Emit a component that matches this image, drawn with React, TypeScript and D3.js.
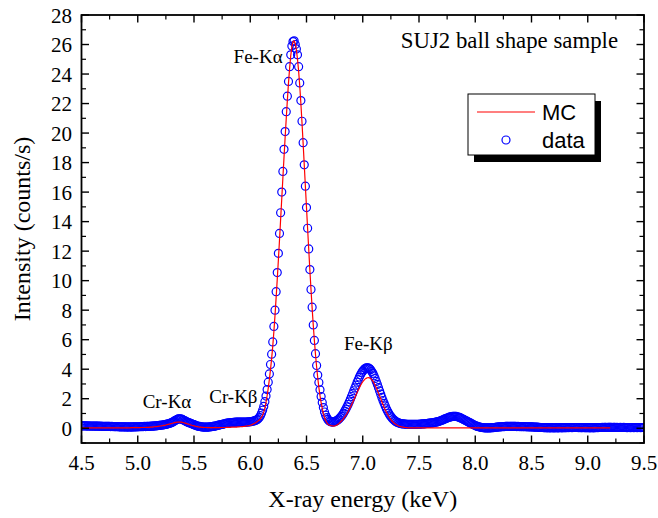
import React from "react";
import * as d3 from "d3";

// Spectrum channels: energy of channel i is ENERGY_START + i * ENERGY_STEP (keV)
const ENERGY_START = 4.5;
const ENERGY_STEP = 0.01;

// Measured intensity (counts/s), one value per channel, 4.50 … 9.50 keV
const measuredCounts = [
  0.16, 0.16, 0.17, 0.16, 0.16, 0.15, 0.16, 0.15, 0.15, 0.15,
  0.15, 0.14, 0.15, 0.14, 0.14, 0.14, 0.13, 0.14, 0.13, 0.13,
  0.13, 0.12, 0.13, 0.12, 0.12, 0.12, 0.11, 0.12, 0.11, 0.11,
  0.10, 0.10, 0.11, 0.10, 0.09, 0.09, 0.10, 0.09, 0.09, 0.09,
  0.09, 0.08, 0.09, 0.09, 0.08, 0.09, 0.09, 0.09, 0.10, 0.09,
  0.10, 0.10, 0.10, 0.11, 0.11, 0.11, 0.12, 0.11, 0.12, 0.12,
  0.13, 0.13, 0.14, 0.14, 0.15, 0.16, 0.16, 0.17, 0.18, 0.19,
  0.20, 0.21, 0.22, 0.23, 0.25, 0.26, 0.28, 0.30, 0.32, 0.35,
  0.38, 0.42, 0.46, 0.51, 0.56, 0.60, 0.63, 0.64, 0.64, 0.62,
  0.58, 0.54, 0.50, 0.46, 0.42, 0.39, 0.36, 0.33, 0.30, 0.27,
  0.24, 0.21, 0.18, 0.15, 0.13, 0.12, 0.10, 0.09, 0.08, 0.08,
  0.07, 0.07, 0.08, 0.08, 0.09, 0.10, 0.11, 0.12, 0.14, 0.15,
  0.17, 0.19, 0.21, 0.23, 0.25, 0.26, 0.28, 0.30, 0.32, 0.34,
  0.35, 0.36, 0.37, 0.38, 0.39, 0.40, 0.40, 0.41, 0.41, 0.42,
  0.42, 0.42, 0.42, 0.42, 0.41, 0.42, 0.42, 0.42, 0.43, 0.43,
  0.44, 0.45, 0.47, 0.49, 0.51, 0.54, 0.58, 0.64, 0.72, 0.85,
  1.02, 1.22, 1.48, 1.80, 2.18, 2.62, 3.12, 3.68, 4.32, 5.02,
  5.85, 6.90, 8.00, 9.25, 10.55, 11.85, 13.2, 14.6, 16.0, 17.4,
  18.9, 20.1, 21.45, 22.5, 23.5, 24.5, 25.3, 25.9, 26.2, 26.25,
  26.0, 25.7, 25.3, 24.5, 23.4, 22.2, 20.8, 19.35, 17.85, 16.4,
  14.95, 13.55, 12.15, 10.75, 9.4, 8.2, 7.0, 5.95, 5.05, 4.25,
  3.6, 3.1, 2.6, 2.15, 1.75, 1.4, 1.10, 0.88, 0.72, 0.60,
  0.51, 0.46, 0.43, 0.42, 0.43, 0.45, 0.48, 0.52, 0.57, 0.64,
  0.72, 0.81, 0.92, 1.03, 1.16, 1.30, 1.45, 1.61, 1.78, 1.96,
  2.15, 2.34, 2.54, 2.73, 2.92, 3.12, 3.29, 3.47, 3.62, 3.76,
  3.87, 3.97, 4.04, 4.09, 4.10, 4.09, 4.04, 3.97, 3.85, 3.72,
  3.55, 3.37, 3.17, 2.97, 2.75, 2.53, 2.31, 2.09, 1.88, 1.69,
  1.51, 1.32, 1.17, 1.03, 0.90, 0.79, 0.70, 0.61, 0.54, 0.48,
  0.43, 0.39, 0.36, 0.33, 0.31, 0.30, 0.29, 0.28, 0.28, 0.27,
  0.27, 0.27, 0.26, 0.26, 0.26, 0.26, 0.26, 0.26, 0.27, 0.27,
  0.27, 0.28, 0.28, 0.29, 0.30, 0.30, 0.31, 0.32, 0.33, 0.34,
  0.35, 0.36, 0.37, 0.38, 0.40, 0.41, 0.43, 0.45, 0.47, 0.50,
  0.53, 0.56, 0.60, 0.63, 0.66, 0.69, 0.72, 0.75, 0.77, 0.79,
  0.80, 0.81, 0.81, 0.80, 0.78, 0.76, 0.73, 0.70, 0.66, 0.62,
  0.58, 0.54, 0.50, 0.46, 0.42, 0.38, 0.34, 0.30, 0.26, 0.22,
  0.18, 0.15, 0.12, 0.10, 0.08, 0.06, 0.05, 0.04, 0.03, 0.03,
  0.02, 0.02, 0.02, 0.03, 0.03, 0.04, 0.04, 0.05, 0.06, 0.07,
  0.08, 0.09, 0.09, 0.10, 0.10, 0.11, 0.11, 0.12, 0.12, 0.12,
  0.12, 0.13, 0.12, 0.13, 0.12, 0.12, 0.12, 0.11, 0.12, 0.11,
  0.11, 0.11, 0.10, 0.11, 0.10, 0.10, 0.10, 0.09, 0.10, 0.09,
  0.09, 0.09, 0.08, 0.08, 0.07, 0.07, 0.06, 0.06, 0.05, 0.05,
  0.05, 0.04, 0.04, 0.04, 0.03, 0.04, 0.03, 0.03, 0.04, 0.03,
  0.03, 0.03, 0.04, 0.03, 0.03, 0.04, 0.04, 0.03, 0.04, 0.04,
  0.04, 0.04, 0.05, 0.04, 0.05, 0.05, 0.04, 0.05, 0.05, 0.05,
  0.05, 0.05, 0.04, 0.05, 0.04, 0.04, 0.05, 0.04, 0.04, 0.04,
  0.04, 0.04, 0.03, 0.04, 0.04, 0.03, 0.04, 0.04, 0.05, 0.04,
  0.05, 0.05, 0.05, 0.06, 0.05, 0.06, 0.06, 0.05, 0.06, 0.06,
  0.06, 0.06, 0.05, 0.06, 0.06, 0.05, 0.06, 0.05, 0.05, 0.06,
  0.05, 0.05, 0.06, 0.05, 0.05, 0.04, 0.05, 0.05, 0.04, 0.05,
  0.05, 0.04, 0.05, 0.05, 0.04, 0.05, 0.05, 0.04, 0.05, 0.05,
  0.05,
];

// Monte Carlo simulated intensity (counts/s) on the same channels
const simulatedCounts = [
  0.03, 0.03, 0.03, 0.03, 0.03, 0.03, 0.03, 0.03, 0.03, 0.03,
  0.03, 0.03, 0.03, 0.03, 0.03, 0.03, 0.03, 0.03, 0.03, 0.03,
  0.03, 0.03, 0.03, 0.03, 0.03, 0.03, 0.03, 0.03, 0.03, 0.03,
  0.03, 0.03, 0.03, 0.03, 0.03, 0.03, 0.03, 0.03, 0.03, 0.03,
  0.03, 0.03, 0.03, 0.03, 0.04, 0.04, 0.04, 0.04, 0.04, 0.04,
  0.04, 0.04, 0.04, 0.05, 0.05, 0.05, 0.05, 0.05, 0.06, 0.06,
  0.06, 0.07, 0.07, 0.08, 0.09, 0.10, 0.11, 0.12, 0.13, 0.14,
  0.15, 0.16, 0.17, 0.19, 0.20, 0.22, 0.24, 0.26, 0.28, 0.30,
  0.32, 0.34, 0.36, 0.38, 0.40, 0.41, 0.42, 0.42, 0.42, 0.41,
  0.39, 0.37, 0.35, 0.33, 0.30, 0.28, 0.25, 0.23, 0.20, 0.18,
  0.16, 0.14, 0.12, 0.11, 0.09, 0.08, 0.07, 0.06, 0.06, 0.05,
  0.05, 0.05, 0.04, 0.04, 0.04, 0.04, 0.04, 0.04, 0.04, 0.04,
  0.04, 0.04, 0.04, 0.04, 0.05, 0.05, 0.05, 0.05, 0.05, 0.06,
  0.06, 0.06, 0.06, 0.07, 0.07, 0.07, 0.08, 0.08, 0.08, 0.09,
  0.09, 0.10, 0.10, 0.11, 0.12, 0.13, 0.14, 0.15, 0.17, 0.18,
  0.20, 0.23, 0.26, 0.30, 0.34, 0.39, 0.44, 0.50, 0.56, 0.64,
  0.75, 0.90, 1.10, 1.38, 1.75, 2.20, 2.72, 3.32, 3.98, 4.72,
  5.55, 6.55, 7.65, 8.85, 10.1, 11.4, 12.75, 14.15, 15.55, 16.95,
  18.35, 19.7, 21.0, 22.25, 23.4, 24.4, 25.25, 25.85, 26.2, 26.25,
  26.05, 25.65, 25.0, 24.2, 23.2, 22.0, 20.7, 19.3, 17.85, 16.4,
  14.95, 13.5, 12.1, 10.7, 9.4, 8.15, 7.0, 5.95, 5.0, 4.15,
  3.4, 2.75, 2.2, 1.74, 1.34, 1.0, 0.74, 0.54, 0.39, 0.28,
  0.22, 0.19, 0.17, 0.16, 0.15, 0.16, 0.18, 0.22, 0.27, 0.33,
  0.41, 0.49, 0.57, 0.66, 0.77, 0.88, 1.00, 1.13, 1.28, 1.43,
  1.59, 1.75, 1.92, 2.09, 2.26, 2.43, 2.60, 2.75, 2.90, 3.03,
  3.15, 3.25, 3.33, 3.38, 3.42, 3.43, 3.41, 3.37, 3.29, 3.19,
  3.07, 2.92, 2.75, 2.57, 2.38, 2.19, 2.00, 1.80, 1.61, 1.43,
  1.26, 1.09, 0.95, 0.81, 0.69, 0.59, 0.49, 0.41, 0.34, 0.28,
  0.23, 0.19, 0.15, 0.13, 0.10, 0.09, 0.07, 0.06, 0.05, 0.04,
  0.03, 0.03, 0.03, 0.03, 0.03, 0.03, 0.03, 0.03, 0.03, 0.03,
  0.03, 0.03, 0.03, 0.03, 0.03, 0.03, 0.03, 0.03, 0.03, 0.03,
  0.03, 0.03, 0.03, 0.03, 0.03, 0.03, 0.03, 0.03, 0.03, 0.03,
  0.03, 0.03, 0.03, 0.03, 0.03, 0.03, 0.03, 0.03, 0.03, 0.03,
  0.03, 0.03, 0.03, 0.03, 0.03, 0.03, 0.03, 0.03, 0.03, 0.03,
  0.03, 0.03, 0.03, 0.03, 0.03, 0.03, 0.03, 0.03, 0.03, 0.03,
  0.02, 0.02, 0.02, 0.02, 0.02, 0.02, 0.02, 0.02, 0.02, 0.02,
  0.02, 0.02, 0.02, 0.02, 0.02, 0.02, 0.02, 0.02, 0.02, 0.02,
  0.02, 0.02, 0.02, 0.02, 0.02, 0.02, 0.02, 0.02, 0.02, 0.02,
  0.02, 0.02, 0.02, 0.02, 0.02, 0.02, 0.02, 0.02, 0.02, 0.02,
  0.02, 0.02, 0.02, 0.02, 0.02, 0.02, 0.02, 0.02, 0.02, 0.02,
  0.02, 0.02, 0.02, 0.02, 0.02, 0.02, 0.02, 0.02, 0.02, 0.02,
  0.02, 0.02, 0.02, 0.02, 0.02, 0.02, 0.02, 0.02, 0.02, 0.02,
  0.02, 0.02, 0.02, 0.02, 0.02, 0.02, 0.02, 0.02, 0.02, 0.02,
  0.02, 0.02, 0.02, 0.02, 0.02, 0.02, 0.02, 0.02, 0.02, 0.02,
  0.02, 0.02, 0.02, 0.02, 0.02, 0.02, 0.02, 0.02, 0.02, 0.02,
  0.02, 0.02, 0.02, 0.02, 0.02, 0.02, 0.02, 0.02, 0.02, 0.02,
  0.02, 0.02, 0.02, 0.02, 0.02, 0.02, 0.02, 0.02, 0.02, 0.02,
  0.02,
];

const xTickValues = [4.5, 5.0, 5.5, 6.0, 6.5, 7.0, 7.5, 8.0, 8.5, 9.0, 9.5];
const yTickValues = [0, 2, 4, 6, 8, 10, 12, 14, 16, 18, 20, 22, 24, 26, 28];

// Emission-line names, anchored at (energy keV, intensity) of the text baseline centre
const lineNames = ["Cr-K\u03b1", "Cr-K\u03b2", "Fe-K\u03b1", "Fe-K\u03b2"];
const lineEnergies = [5.26, 5.85, 6.07, 7.05];
const lineHeights = [1.35, 1.69, 24.75, 5.3];

const sampleTitle = "SUJ2 ball shape sample";
const seriesNames = ["MC", "data"];

const W = 658;
const H = 518;
const M = { left: 81.5, right: 644, top: 15, bottom: 443 };

const SERIF = "'Liberation Serif', 'Times New Roman', serif";
const SANS = "'Liberation Sans', Arial, sans-serif";

export default function App() {
  const x = d3.scaleLinear().domain([4.5, 9.5]).range([M.left, M.right]);
  const y = d3.scaleLinear().domain([-1, 28]).range([M.bottom, M.top]);

  const energyAt = (i: number) => ENERGY_START + i * ENERGY_STEP;
  const measured = measuredCounts.map((v, i) => ({ e: energyAt(i), v }));
  const simulated = simulatedCounts.map((v, i) => ({ e: energyAt(i), v }));

  const mcLine = d3
    .line<{ e: number; v: number }>()
    .x((d) => x(d.e))
    .y((d) => y(d.v));

  const xMinor = xTickValues.slice(0, -1).map((t) => t + 0.25);
  const yMinor = d3.range(-1, 29, 2);

  const majorLen = 7.5;
  const minorLen = 4.5;

  const legend = { x: 468, y: 94, w: 127, h: 61 };

  return (
    <>
      <style>{`body{margin:0;background:#fff}`}</style>
      <svg width={W} height={H} viewBox={`0 0 ${W} ${H}`} style={{ display: "block" }}>
        <defs>
          <clipPath id="plot-area">
            <rect x={M.left} y={M.top} width={M.right - M.left} height={M.bottom - M.top} />
          </clipPath>
        </defs>
        <rect x={0} y={0} width={W} height={H} fill="#fff" />

        {/* measured spectrum: open circles */}
        <g clipPath="url(#plot-area)">
          {measured.map((d, i) => (
            <circle
              key={i}
              cx={x(d.e)}
              cy={y(d.v)}
              r={4}
              fill="none"
              stroke="#0000ff"
              strokeWidth={1.2}
            />
          ))}
          {/* simulated spectrum: red line */}
          <path d={mcLine(simulated) || ""} fill="none" stroke="#ff0000" strokeWidth={1.2} />
        </g>

        {/* frame */}
        <rect
          x={M.left}
          y={M.top}
          width={M.right - M.left}
          height={M.bottom - M.top}
          fill="none"
          stroke="#000"
          strokeWidth={1.8}
        />

        {/* x ticks (bottom and top, pointing inward) */}
        {xTickValues.map((t) => (
          <g key={`xt${t}`}>
            <line x1={x(t)} x2={x(t)} y1={M.bottom} y2={M.bottom - majorLen} stroke="#000" strokeWidth={1.4} />
            <line x1={x(t)} x2={x(t)} y1={M.top} y2={M.top + majorLen} stroke="#000" strokeWidth={1.4} />
            <text
              x={x(t)}
              y={470}
              textAnchor="middle"
              fontFamily={SERIF}
              fontSize={21}
              fill="#000"
            >
              {t.toFixed(1)}
            </text>
          </g>
        ))}
        {xMinor.map((t) => (
          <g key={`xm${t}`}>
            <line x1={x(t)} x2={x(t)} y1={M.bottom} y2={M.bottom - minorLen} stroke="#000" strokeWidth={1.2} />
            <line x1={x(t)} x2={x(t)} y1={M.top} y2={M.top + minorLen} stroke="#000" strokeWidth={1.2} />
          </g>
        ))}

        {/* y ticks (left and right, pointing inward) */}
        {yTickValues.map((t) => (
          <g key={`yt${t}`}>
            <line x1={M.left} x2={M.left + majorLen} y1={y(t)} y2={y(t)} stroke="#000" strokeWidth={1.4} />
            <line x1={M.right} x2={M.right - majorLen} y1={y(t)} y2={y(t)} stroke="#000" strokeWidth={1.4} />
            <text
              x={72}
              y={y(t) + 7.5}
              textAnchor="end"
              fontFamily={SERIF}
              fontSize={21}
              fill="#000"
            >
              {t}
            </text>
          </g>
        ))}
        {yMinor.map((t) => (
          <g key={`ym${t}`}>
            <line x1={M.left} x2={M.left + minorLen} y1={y(t)} y2={y(t)} stroke="#000" strokeWidth={1.2} />
            <line x1={M.right} x2={M.right - minorLen} y1={y(t)} y2={y(t)} stroke="#000" strokeWidth={1.2} />
          </g>
        ))}

        {/* axis titles */}
        <text x={(M.left + M.right) / 2} y={507} textAnchor="middle" fontFamily={SERIF} fontSize={24} fill="#000">
          X-ray energy (keV)
        </text>
        <text
          transform={`translate(30, ${(M.top + M.bottom) / 2}) rotate(-90)`}
          textAnchor="middle"
          fontFamily={SERIF}
          fontSize={24}
          fill="#000"
        >
          Intensity (counts/s)
        </text>

        {/* sample name */}
        <text x={618} y={48} textAnchor="end" fontFamily={SERIF} fontSize={22.8} fill="#000">
          {sampleTitle}
        </text>

        {/* emission line names */}
        {lineNames.map((name, i) => (
          <text
            key={name}
            x={x(lineEnergies[i])}
            y={y(lineHeights[i])}
            textAnchor="middle"
            fontFamily={SERIF}
            fontSize={19}
            fill="#000"
          >
            {name}
          </text>
        ))}

        {/* legend with drop shadow */}
        <rect x={legend.x + 6} y={legend.y + 7} width={legend.w} height={legend.h} fill="#000" />
        <rect
          x={legend.x}
          y={legend.y}
          width={legend.w}
          height={legend.h}
          fill="#fff"
          stroke="#000"
          strokeWidth={1}
        />
        <line x1={477} x2={535} y1={112} y2={112} stroke="#ff0000" strokeWidth={1.2} />
        <circle cx={506} cy={140} r={4} fill="none" stroke="#0000ff" strokeWidth={1.2} />
        <text x={542} y={120} fontFamily={SANS} fontSize={22} fill="#000">
          {seriesNames[0]}
        </text>
        <text x={542} y={148} fontFamily={SANS} fontSize={22} fill="#000">
          {seriesNames[1]}
        </text>
      </svg>
    </>
  );
}
